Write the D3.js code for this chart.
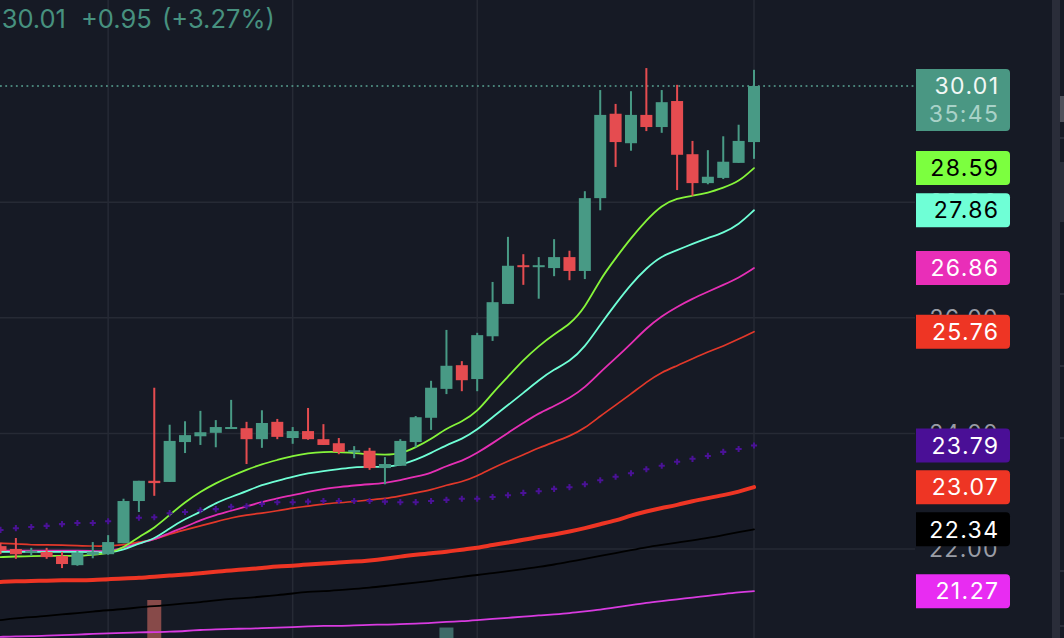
<!DOCTYPE html>
<html><head><meta charset="utf-8">
<script src="https://cdn.jsdelivr.net/npm/d3@7"></script>
<style>html,body{margin:0;padding:0;background:#161a25;overflow:hidden}svg{display:block}text{font-family:Inter,"Open Sans",sans-serif}</style>
</head><body><svg id="c" width="1064" height="638"></svg>
<script>
const open_ = [22.05,22.00,21.93,21.95,21.88,21.72,21.90,21.91,22.10,22.83,23.18,23.16,23.85,23.95,24.01,24.08,24.09,23.90,24.20,23.92,24.04,23.90,23.83,23.68,23.70,23.40,23.44,23.85,24.27,24.77,25.18,24.94,25.68,26.24,26.91,26.88,26.86,27.05,26.81,28.07,29.53,29.02,29.51,29.30,29.75,28.83,28.33,28.42,28.68,29.04];
const high = [22.10,22.19,22.02,22.02,21.95,21.97,22.12,22.24,22.87,23.18,24.79,24.15,24.21,24.39,24.23,24.58,24.20,24.40,24.25,24.11,24.44,24.16,23.92,23.78,23.75,23.59,23.90,24.30,24.91,25.79,25.25,25.74,26.62,27.40,27.10,27.05,27.36,27.16,28.19,29.94,29.70,29.92,30.32,29.94,30.03,29.06,28.90,29.14,29.34,30.29];
const low = [21.91,21.83,21.88,21.83,21.67,21.71,21.84,21.90,22.10,22.64,22.92,23.16,23.66,23.80,23.76,24.08,23.47,23.75,23.90,23.82,23.89,23.80,23.64,23.57,23.37,23.12,23.44,23.76,24.06,24.68,24.73,24.73,25.60,26.24,26.57,26.33,26.72,26.65,26.67,27.86,28.61,28.89,29.23,29.20,28.21,28.11,28.31,28.40,28.68,28.75];
const close_ = [21.97,21.91,21.97,21.86,21.74,21.93,21.95,22.12,22.83,23.18,23.14,23.87,23.97,24.02,24.11,24.11,23.90,24.18,23.94,24.04,23.90,23.80,23.68,23.71,23.40,23.47,23.87,24.28,24.79,25.17,24.92,25.70,26.27,26.90,26.88,26.91,27.05,26.81,28.07,29.51,29.04,29.51,29.30,29.73,28.82,28.33,28.44,28.70,29.06,30.01];

const ema8 = [21.86,21.87,21.88,21.88,21.88,21.88,21.90,21.92,22.02,22.21,22.36,22.59,22.81,22.99,23.14,23.26,23.37,23.47,23.54,23.61,23.66,23.68,23.68,23.66,23.64,23.63,23.64,23.76,23.90,24.09,24.20,24.37,24.70,24.98,25.27,25.51,25.72,25.88,26.17,26.67,27.03,27.38,27.69,27.95,28.07,28.11,28.16,28.25,28.35,28.59];
const ema13 = [21.95,21.95,21.95,21.95,21.95,21.95,21.95,21.93,21.98,22.10,22.17,22.36,22.52,22.64,22.80,22.90,23.00,23.11,23.18,23.25,23.31,23.35,23.38,23.42,23.42,23.42,23.45,23.54,23.66,23.80,23.90,24.06,24.28,24.49,24.70,24.92,25.11,25.24,25.49,25.88,26.24,26.58,26.86,27.07,27.17,27.28,27.38,27.47,27.61,27.86];
const ema21 = [21.97,21.97,21.97,21.97,21.97,21.97,21.97,21.95,22.03,22.10,22.16,22.28,22.38,22.50,22.59,22.66,22.74,22.81,22.88,22.93,22.99,23.04,23.07,23.10,23.12,23.14,23.19,23.25,23.31,23.44,23.52,23.66,23.83,24.01,24.18,24.35,24.47,24.61,24.79,25.06,25.30,25.55,25.82,26.03,26.19,26.33,26.45,26.57,26.69,26.86];
const ema34 = [22.10,22.09,22.07,22.07,22.07,22.06,22.05,22.05,22.07,22.12,22.16,22.26,22.33,22.40,22.47,22.54,22.59,22.62,22.66,22.71,22.74,22.78,22.80,22.82,22.85,22.87,22.92,22.97,23.02,23.11,23.16,23.26,23.40,23.52,23.63,23.75,23.85,23.95,24.09,24.30,24.49,24.68,24.89,25.06,25.17,25.29,25.41,25.51,25.63,25.76];
const crossLine = [22.33,22.36,22.38,22.40,22.43,22.45,22.45,22.48,22.52,22.54,22.55,22.62,22.64,22.67,22.69,22.73,22.74,22.78,22.81,22.81,22.82,22.83,22.83,22.83,22.83,22.82,22.81,22.81,22.83,22.85,22.87,22.87,22.90,22.93,22.97,23.00,23.04,23.07,23.12,23.19,23.25,23.31,23.38,23.44,23.51,23.56,23.61,23.68,23.73,23.79];
const sma50 = [21.43,21.44,21.45,21.45,21.46,21.46,21.46,21.48,21.49,21.50,21.52,21.54,21.56,21.58,21.61,21.63,21.65,21.67,21.70,21.71,21.73,21.75,21.77,21.78,21.80,21.83,21.87,21.90,21.93,21.95,21.99,22.02,22.07,22.11,22.16,22.21,22.25,22.30,22.36,22.43,22.49,22.58,22.65,22.71,22.76,22.83,22.88,22.93,22.99,23.07];
const sma100 = [20.77,20.80,20.82,20.84,20.87,20.89,20.92,20.94,20.96,20.99,21.01,21.03,21.06,21.08,21.11,21.14,21.15,21.18,21.20,21.23,21.26,21.27,21.29,21.31,21.33,21.36,21.39,21.42,21.45,21.48,21.52,21.55,21.58,21.62,21.65,21.69,21.73,21.78,21.83,21.88,21.93,21.98,22.03,22.07,22.11,22.15,22.19,22.24,22.29,22.34];
const sma200 = [20.48,20.49,20.49,20.50,20.51,20.52,20.53,20.54,20.55,20.56,20.56,20.57,20.58,20.60,20.61,20.62,20.62,20.63,20.64,20.65,20.66,20.67,20.67,20.68,20.69,20.69,20.70,20.71,20.72,20.74,20.75,20.77,20.79,20.81,20.83,20.85,20.87,20.89,20.92,20.95,20.99,21.03,21.07,21.10,21.13,21.16,21.19,21.22,21.25,21.27];

const volBars = [10, 29];
const volValues = [1.0, 0.84];
const volDir = ["down", "up"];
const priceTicks = [22, 24, 26, 28, 30];
const timeTicks = [7, 19, 31, 49];
const headerLast = "30.01";
const headerChange = "+0.95";
const headerPct = "(+3.27%)";
const countdown = "35:45";

const UP = "#489a85", DOWN = "#e54c50", GRID = "#262a35", BG = "#161a25";
const W = 1064, H = 638;
const svg = d3.select("#c");
const x = d3.scalePoint().domain(d3.range(close_.length)).range([0.5, 754]);
const y = d3.scaleLinear().domain([22, 30.01]).range([549, 86]);
const yVol = d3.scaleLinear().domain([0, 1]).range([772, 600]);

svg.append("rect").attr("width", W).attr("height", H).attr("fill", BG);

// grid
const grid = svg.append("g").attr("stroke", GRID).attr("stroke-width", 1.5);
grid.selectAll(".h").data(priceTicks.slice(0, 4)).join("line")
  .attr("x1", 0).attr("x2", 915).attr("y1", d => y(d)).attr("y2", d => y(d));
grid.selectAll(".v").data(timeTicks).join("line")
  .attr("x1", d => x(d)).attr("x2", d => x(d)).attr("y1", 0).attr("y2", H);

// axis labels (sit under the value tags)
const tagFont = "23px", tagSpace = "1.4px";
const axis = d3.axisRight(y).tickValues(priceTicks).tickSize(0).tickFormat(d3.format(".2f"));
const ax = svg.append("g").attr("transform", "translate(999,0)").call(axis);
ax.select(".domain").remove();
ax.selectAll("text").attr("x", 0).attr("text-anchor", "end").attr("fill", "#9a9da6")
  .style("font-size", tagFont).style("letter-spacing", tagSpace).style("font-family", "Inter");

// volume
svg.append("g").selectAll("rect").data(volBars).join("rect")
  .attr("x", d => x(d) - 7).attr("width", 14)
  .attr("y", (d, i) => yVol(volValues[i])).attr("height", (d, i) => yVol(0) - yVol(volValues[i]))
  .attr("fill", (d, i) => volDir[i] === "up" ? "#3e6b68" : "#874a49");

// price line
svg.append("line").attr("x1", 0).attr("x2", 915).attr("y1", y(30.01)).attr("y2", y(30.01))
  .attr("stroke", "#5aa594").attr("stroke-width", 1.6).attr("stroke-dasharray", "1.8 3.5");

// lines
const lineGen = d3.line().x((d, i) => x(i)).y(d => y(d)).curve(d3.curveBasis);
const series = [
  [sma200, "#d83be0", 1.8], [sma100, "#000000", 1.8], [sma50, "#ee3524", 4],
  [ema34, "#e2382a", 1.7], [ema21, "#e52fb5", 1.8], [ema13, "#6fffd6", 1.8], [ema8, "#86f53a", 1.8]
];
svg.append("g").attr("fill", "none").attr("stroke-linecap", "round").selectAll("path").data(series).join("path")
  .attr("d", d => lineGen(d[0])).attr("stroke", d => d[1]).attr("stroke-width", d => d[2]);

// cross plot
svg.append("g").selectAll("path").data(crossLine).join("path")
  .attr("d", d3.symbol(d3.symbolCross, 21))
  .attr("transform", (d, i) => `translate(${x(i)},${y(d)})`).attr("fill", "#4a1296");

// candles
const isUp = i => close_[i] >= open_[i];
const cg = svg.append("g").selectAll("g").data(d3.range(close_.length)).join("g");
cg.append("rect").attr("x", i => x(i) - 1).attr("width", 2)
  .attr("y", i => y(high[i])).attr("height", i => y(low[i]) - y(high[i]))
  .attr("fill", i => isUp(i) ? UP : DOWN);
cg.append("rect").attr("x", i => x(i) - 6).attr("width", 12)
  .attr("y", i => y(Math.max(open_[i], close_[i])))
  .attr("height", i => Math.max(2, Math.abs(y(open_[i]) - y(close_[i]))))
  .attr("fill", i => isUp(i) ? UP : DOWN);

// value tags
const tagVals = [28.59, 27.86, 26.86, 25.76, 23.79, 23.07, 22.34, 21.27];
const tagFill = ["#7cff3f", "#6fffd6", "#e92eb8", "#ee3524", "#4a0f96", "#ee3524", "#000000", "#e82cf2"];
const tagText = ["#000", "#000", "#fff", "#fff", "#fff", "#fff", "#fff", "#fff"];
const tagPath = (x0, y0, w, h, r) =>
  `M${x0},${y0}H${x0 + w - r}Q${x0 + w},${y0} ${x0 + w},${y0 + r}V${y0 + h - r}Q${x0 + w},${y0 + h} ${x0 + w - r},${y0 + h}H${x0}Z`;
const tags = svg.append("g").selectAll("g").data(tagVals).join("g");
tags.append("path").attr("d", d => tagPath(916, y(d) - 17, 94, 34, 4)).attr("fill", (d, i) => tagFill[i]);
tags.append("text").attr("x", 999.5).attr("y", d => y(d) + 8.2).attr("text-anchor", "end")
  .attr("fill", (d, i) => tagText[i]).style("font-size", tagFont).style("letter-spacing", tagSpace)
  .text(d => d.toFixed(2));

// last price tag
svg.append("path").attr("d", tagPath(916, y(30.01) - 17, 94, 62, 4)).attr("fill", "#4a9783");
svg.append("text").attr("x", 999.5).attr("y", y(30.01) + 8.2).attr("text-anchor", "end").attr("fill", "#f2f7f5")
  .style("font-size", tagFont).style("letter-spacing", tagSpace).text(headerLast);
svg.append("text").attr("x", 999.5).attr("y", y(30.01) + 36).attr("text-anchor", "end").attr("fill", "#a9d2c8")
  .style("font-size", tagFont).style("letter-spacing", tagSpace).text(countdown);

// header
const hdr = svg.append("g").attr("fill", "#47917f").style("font-size", "25.5px");
hdr.append("text").attr("x", 66).attr("y", 28).attr("text-anchor", "end").text(headerLast);
hdr.append("text").attr("x", 81).attr("y", 28).text(headerChange);
hdr.append("text").attr("x", 162).attr("y", 28).text(headerPct);

// right edge panel
svg.append("rect").attr("x", 1052).attr("y", 0).attr("width", 8).attr("height", H).attr("fill", "#2a2d39");
svg.append("rect").attr("x", 1060).attr("y", 96).attr("width", 4).attr("height", 26).attr("fill", "#4f515b");
svg.append("rect").attr("x", 1060).attr("y", 162).attr("width", 4).attr("height", 60).attr("fill", "#2a2d39");
svg.append("g").selectAll("rect").data([137, 293, 365, 437, 570, 625]).join("rect")
  .attr("x", 1060).attr("width", 4).attr("y", d => d).attr("height", 2).attr("fill", "#2a2d39");
</script></body></html>
